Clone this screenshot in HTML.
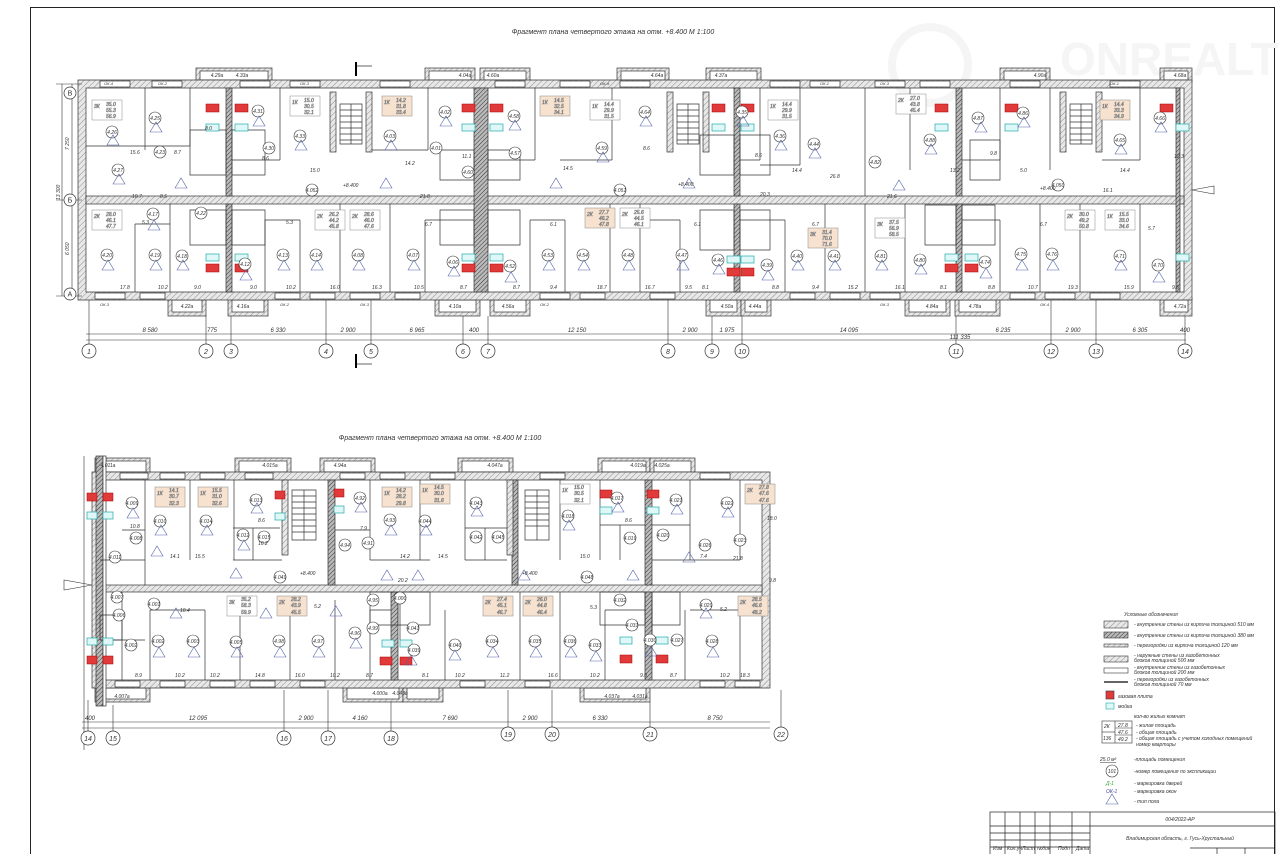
<!DOCTYPE html>
<html><head><meta charset="utf-8"><style>
html,body{margin:0;padding:0;background:#fff}
svg{display:block}
text{font-family:"Liberation Sans",sans-serif;font-style:italic;fill:#333}
.t{font-size:5px}
.d{font-size:6px}
.b{font-size:7px}
</style></head><body>
<svg width="1280" height="854" viewBox="0 0 1280 854" xmlns="http://www.w3.org/2000/svg">
<defs>
<pattern id="h" width="4" height="4" patternUnits="userSpaceOnUse" patternTransform="rotate(45)"><rect width="4" height="4" fill="#e8e8e8"/><line x1="0" y1="0" x2="0" y2="4" stroke="#777" stroke-width="0.8"/></pattern>
<pattern id="dh" width="3" height="3" patternUnits="userSpaceOnUse" patternTransform="rotate(45)"><rect width="3" height="3" fill="#bbb"/><line x1="0" y1="0" x2="0" y2="3" stroke="#333" stroke-width="1"/></pattern>
</defs>
<!-- frame -->
<rect x="30.5" y="7.5" width="1244" height="850" fill="none" stroke="#222" stroke-width="1"/>
<text x="1060" y="75" font-size="46" style="fill:#f5f5f5;font-weight:bold;font-style:normal">ONREALT</text>
<circle cx="930" cy="65" r="38" fill="none" stroke="#f5f5f5" stroke-width="8"/>

<text x="613" y="34" class="b" text-anchor="middle">Фрагмент плана четвертого этажа на отм. +8.400 М 1:100</text>
<text x="440" y="440" class="b" text-anchor="middle">Фрагмент плана четвертого этажа на отм. +8.400 М 1:100</text>

<!-- ===== PLAN 1 ===== -->
<g stroke="#333" stroke-width="0.7">
<g fill="url(#h)">
<rect x="196" y="68" width="76" height="14"/><rect x="425" y="68" width="50" height="14"/><rect x="480" y="68" width="50" height="14"/>
<rect x="617" y="68" width="52" height="14"/><rect x="706" y="68" width="55" height="14"/><rect x="1000" y="68" width="50" height="14"/><rect x="1160" y="68" width="32" height="14"/>
<rect x="168" y="298" width="38" height="18"/><rect x="228" y="298" width="40" height="18"/><rect x="435" y="298" width="45" height="18"/><rect x="490" y="298" width="40" height="18"/>
<rect x="706" y="298" width="35" height="18"/><rect x="741" y="298" width="30" height="18"/><rect x="905" y="298" width="45" height="18"/><rect x="955" y="298" width="45" height="18"/><rect x="1160" y="298" width="32" height="18"/>
</g>
<g fill="#fff">
<rect x="200" y="71" width="68" height="9"/><rect x="429" y="71" width="42" height="9"/><rect x="484" y="71" width="42" height="9"/><rect x="621" y="71" width="44" height="9"/><rect x="710" y="71" width="47" height="9"/><rect x="1004" y="71" width="42" height="9"/><rect x="1164" y="71" width="24" height="9"/>
<rect x="172" y="300" width="30" height="12"/><rect x="232" y="300" width="32" height="12"/><rect x="439" y="300" width="37" height="12"/><rect x="494" y="300" width="32" height="12"/><rect x="710" y="300" width="27" height="12"/><rect x="745" y="300" width="22" height="12"/><rect x="909" y="300" width="37" height="12"/><rect x="959" y="300" width="37" height="12"/><rect x="1164" y="300" width="24" height="12"/>
</g>
<path d="M78 80H1192V300H78Z M86 88V292H1184V88Z" fill="url(#h)" fill-rule="evenodd"/>
<rect x="86" y="196" width="1098" height="8" fill="url(#h)"/>
<g fill="url(#dh)">
<rect x="226" y="88" width="6" height="108"/><rect x="226" y="204" width="6" height="88"/>
<rect x="474" y="88" width="14" height="204"/>
<rect x="734" y="88" width="6" height="108"/><rect x="734" y="204" width="6" height="88"/>
<rect x="956" y="88" width="6" height="108"/><rect x="956" y="204" width="6" height="88"/>
<rect x="1176" y="88" width="4" height="204"/>
</g>
<g fill="none">
<rect x="330" y="92" width="6" height="60" fill="url(#h)"/><rect x="366" y="92" width="6" height="60" fill="url(#h)"/>
<rect x="667" y="92" width="6" height="60" fill="url(#h)"/><rect x="703" y="92" width="6" height="60" fill="url(#h)"/>
<rect x="1060" y="92" width="6" height="60" fill="url(#h)"/><rect x="1096" y="92" width="6" height="60" fill="url(#h)"/>
<path d="M340 104h22v40h-22z M340 110h22M340 116h22M340 122h22M340 128h22M340 134h22M340 140h22 M351 104v40"/>
<path d="M677 104h22v40h-22z M677 110h22M677 116h22M677 122h22M677 128h22M677 134h22M677 140h22 M688 104v40"/>
<path d="M1070 104h22v40h-22z M1070 110h22M1070 116h22M1070 122h22M1070 128h22M1070 134h22M1070 140h22 M1081 104v40"/>
</g>
<path fill="none" d="M145 88V150 M86 146H150 M190 88V146 M145 146H190 M280 88V160 M232 160H280 M428 88V150 M372 150H428 M535 88V160 M488 160H535 M612 88V160 M560 160H612 M760 88V160 M740 160H760 M800 88V165 M865 88V196 M910 88V170 M1000 88V160 M962 160H1000 M1050 88V170 M1140 88V160 M1102 160H1140 M800 165H760"/>
<path fill="none" d="M135 224V292 M135 224H170 M170 204V292 M265 220V292 M265 220H300 M300 220V292 M340 204V292 M390 204V292 M425 220V292 M425 220H474 M530 220V292 M530 220H565 M565 220V292 M610 204V292 M640 204V292 M680 220V292 M640 220H680 M785 220V292 M740 220H785 M825 204V292 M865 204V292 M905 204V292 M1000 220V292 M962 220H1000 M1040 204V292 M1080 204V292 M1140 204V292"/>
<path fill="none" d="M190 130H226V175H190Z M232 130H265V175H232Z M440 150H474V180H440Z M488 150H520V180H488Z M190 210H226V245H190Z M232 210H265V245H232Z M440 210H474V245H440Z M488 210H520V245H488Z M700 135H734V175H700Z M740 135H770V175H740Z M700 210H734V250H700Z M740 210H770V250H740Z M925 205H956V245H925Z M962 205H995V245H962Z M970 140H1000V180H970Z"/>
<g fill="#fff">
<rect x="100" y="81" width="30" height="6"/><rect x="152" y="81" width="30" height="6"/><rect x="240" y="81" width="30" height="6"/><rect x="290" y="81" width="30" height="6"/><rect x="380" y="81" width="30" height="6"/><rect x="495" y="81" width="30" height="6"/><rect x="560" y="81" width="30" height="6"/><rect x="620" y="81" width="30" height="6"/><rect x="770" y="81" width="30" height="6"/><rect x="810" y="81" width="30" height="6"/><rect x="875" y="81" width="30" height="6"/><rect x="920" y="81" width="30" height="6"/><rect x="1010" y="81" width="30" height="6"/><rect x="1110" y="81" width="30" height="6"/>
<rect x="95" y="293" width="30" height="6"/><rect x="140" y="293" width="25" height="6"/><rect x="275" y="293" width="25" height="6"/><rect x="310" y="293" width="25" height="6"/><rect x="350" y="293" width="30" height="6"/><rect x="395" y="293" width="25" height="6"/><rect x="540" y="293" width="30" height="6"/><rect x="580" y="293" width="25" height="6"/><rect x="650" y="293" width="25" height="6"/><rect x="790" y="293" width="25" height="6"/><rect x="830" y="293" width="30" height="6"/><rect x="870" y="293" width="30" height="6"/><rect x="1010" y="293" width="25" height="6"/><rect x="1045" y="293" width="30" height="6"/><rect x="1090" y="293" width="30" height="6"/>
</g>
</g>
<g stroke="#a00" stroke-width="0.5" fill="#e03a3a">
<rect x="206" y="104" width="13" height="8"/><rect x="235" y="104" width="13" height="8"/><rect x="462" y="104" width="13" height="8"/><rect x="490" y="104" width="13" height="8"/><rect x="712" y="104" width="13" height="8"/><rect x="741" y="104" width="13" height="8"/><rect x="935" y="104" width="13" height="8"/><rect x="1005" y="104" width="13" height="8"/><rect x="1160" y="104" width="13" height="8"/>
<rect x="206" y="264" width="13" height="8"/><rect x="235" y="264" width="13" height="8"/><rect x="462" y="264" width="13" height="8"/><rect x="490" y="264" width="13" height="8"/><rect x="727" y="268" width="13" height="8"/><rect x="741" y="268" width="13" height="8"/><rect x="945" y="264" width="13" height="8"/><rect x="965" y="264" width="13" height="8"/>
</g>
<g stroke="#2aa" stroke-width="0.7" fill="#dff7f7">
<rect x="206" y="124" width="13" height="7"/><rect x="235" y="124" width="13" height="7"/><rect x="462" y="124" width="13" height="7"/><rect x="490" y="124" width="13" height="7"/><rect x="712" y="124" width="13" height="7"/><rect x="741" y="124" width="13" height="7"/><rect x="935" y="124" width="13" height="7"/><rect x="1005" y="124" width="13" height="7"/><rect x="1176" y="124" width="13" height="7"/>
<rect x="206" y="254" width="13" height="7"/><rect x="235" y="254" width="13" height="7"/><rect x="462" y="254" width="13" height="7"/><rect x="490" y="254" width="13" height="7"/><rect x="727" y="256" width="13" height="7"/><rect x="741" y="256" width="13" height="7"/><rect x="945" y="254" width="13" height="7"/><rect x="965" y="254" width="13" height="7"/><rect x="1176" y="254" width="13" height="7"/>
</g>
<g stroke="#888" stroke-width="0.5" class="t">
<rect x="92" y="100" width="30" height="20" fill="#fff"/><text x="94" y="108">3К</text><text x="106" y="106">35.0</text><text x="106" y="112">55.3</text><text x="106" y="118">56.9</text>
<rect x="290" y="96" width="30" height="20" fill="#fff"/><text x="292" y="104">1К</text><text x="304" y="102">15.0</text><text x="304" y="108">30.5</text><text x="304" y="114">32.1</text>
<rect x="382" y="96" width="30" height="20" fill="#f7e2d0"/><text x="384" y="104">1К</text><text x="396" y="102">14.2</text><text x="396" y="108">31.8</text><text x="396" y="114">33.4</text>
<rect x="540" y="96" width="30" height="20" fill="#f7e2d0"/><text x="542" y="104">1К</text><text x="554" y="102">14.5</text><text x="554" y="108">32.5</text><text x="554" y="114">34.1</text>
<rect x="590" y="100" width="30" height="20" fill="#fff"/><text x="592" y="108">1К</text><text x="604" y="106">14.4</text><text x="604" y="112">29.9</text><text x="604" y="118">31.5</text>
<rect x="768" y="100" width="30" height="20" fill="#fff"/><text x="770" y="108">1К</text><text x="782" y="106">14.4</text><text x="782" y="112">29.9</text><text x="782" y="118">31.5</text>
<rect x="896" y="94" width="30" height="20" fill="#fff"/><text x="898" y="102">2К</text><text x="910" y="100">27.0</text><text x="910" y="106">43.8</text><text x="910" y="112">45.4</text>
<rect x="1100" y="100" width="30" height="20" fill="#f7e2d0"/><text x="1102" y="108">1К</text><text x="1114" y="106">14.4</text><text x="1114" y="112">33.3</text><text x="1114" y="118">34.9</text>
<rect x="92" y="210" width="30" height="20" fill="#fff"/><text x="94" y="218">2К</text><text x="106" y="216">28.0</text><text x="106" y="222">46.1</text><text x="106" y="228">47.7</text>
<rect x="315" y="210" width="30" height="20" fill="#fff"/><text x="317" y="218">2К</text><text x="329" y="216">26.2</text><text x="329" y="222">44.2</text><text x="329" y="228">45.8</text>
<rect x="350" y="210" width="30" height="20" fill="#fff"/><text x="352" y="218">2К</text><text x="364" y="216">28.6</text><text x="364" y="222">46.0</text><text x="364" y="228">47.6</text>
<rect x="585" y="208" width="30" height="20" fill="#f7e2d0"/><text x="587" y="216">2К</text><text x="599" y="214">27.7</text><text x="599" y="220">46.2</text><text x="599" y="226">47.8</text>
<rect x="620" y="208" width="30" height="20" fill="#fff"/><text x="622" y="216">2К</text><text x="634" y="214">25.6</text><text x="634" y="220">44.5</text><text x="634" y="226">46.1</text>
<rect x="808" y="228" width="30" height="20" fill="#f7e2d0"/><text x="810" y="236">3К</text><text x="822" y="234">31.4</text><text x="822" y="240">70.0</text><text x="822" y="246">71.6</text>
<rect x="875" y="218" width="30" height="20" fill="#fff"/><text x="877" y="226">3К</text><text x="889" y="224">37.5</text><text x="889" y="230">56.9</text><text x="889" y="236">58.5</text>
<rect x="1065" y="210" width="30" height="20" fill="#fff"/><text x="1067" y="218">2К</text><text x="1079" y="216">30.0</text><text x="1079" y="222">49.2</text><text x="1079" y="228">50.8</text>
<rect x="1105" y="210" width="30" height="20" fill="#fff"/><text x="1107" y="218">1К</text><text x="1119" y="216">15.5</text><text x="1119" y="222">33.0</text><text x="1119" y="228">34.6</text>
</g>
<g fill="#fff" stroke="#333" stroke-width="0.6">
<circle cx="112" cy="132" r="6"/><circle cx="155" cy="118" r="6"/><circle cx="118" cy="170" r="6"/><circle cx="160" cy="152" r="6"/><circle cx="258" cy="111" r="6"/><circle cx="300" cy="136" r="6"/><circle cx="269" cy="148" r="6"/><circle cx="390" cy="136" r="6"/><circle cx="445" cy="112" r="6"/><circle cx="436" cy="148" r="6"/><circle cx="514" cy="116" r="6"/><circle cx="515" cy="153" r="6"/><circle cx="602" cy="148" r="6"/><circle cx="645" cy="112" r="6"/><circle cx="742" cy="112" r="6"/><circle cx="780" cy="136" r="6"/><circle cx="814" cy="144" r="6"/><circle cx="875" cy="162" r="6"/><circle cx="930" cy="140" r="6"/><circle cx="978" cy="118" r="6"/><circle cx="1023" cy="113" r="6"/><circle cx="1120" cy="140" r="6"/><circle cx="1160" cy="118" r="6"/><circle cx="312" cy="190" r="6"/><circle cx="468" cy="172" r="6"/><circle cx="620" cy="190" r="6"/><circle cx="1058" cy="185" r="6"/>
<circle cx="107" cy="255" r="6"/><circle cx="153" cy="214" r="6"/><circle cx="155" cy="255" r="6"/><circle cx="182" cy="256" r="6"/><circle cx="201" cy="213" r="6"/><circle cx="245" cy="264" r="6"/><circle cx="283" cy="255" r="6"/><circle cx="316" cy="255" r="6"/><circle cx="358" cy="255" r="6"/><circle cx="413" cy="255" r="6"/><circle cx="453" cy="262" r="6"/><circle cx="510" cy="266" r="6"/><circle cx="548" cy="255" r="6"/><circle cx="583" cy="255" r="6"/><circle cx="628" cy="255" r="6"/><circle cx="682" cy="255" r="6"/><circle cx="718" cy="260" r="6"/><circle cx="767" cy="265" r="6"/><circle cx="797" cy="256" r="6"/><circle cx="834" cy="256" r="6"/><circle cx="881" cy="256" r="6"/><circle cx="920" cy="260" r="6"/><circle cx="985" cy="262" r="6"/><circle cx="1021" cy="254" r="6"/><circle cx="1052" cy="254" r="6"/><circle cx="1120" cy="256" r="6"/><circle cx="1158" cy="265" r="6"/>
</g>
<g class="t" text-anchor="middle">
<text x="112" y="134">4.26</text><text x="155" y="120">4.25</text><text x="118" y="172">4.27</text><text x="160" y="154">4.23</text><text x="258" y="113">4.31</text><text x="300" y="138">4.33</text><text x="269" y="150">4.30</text><text x="390" y="138">4.03</text><text x="445" y="114">4.02</text><text x="436" y="150">4.01</text><text x="514" y="118">4.58</text><text x="515" y="155">4.57</text><text x="602" y="150">4.59</text><text x="645" y="114">4.64</text><text x="742" y="114">4.35</text><text x="780" y="138">4.36</text><text x="814" y="146">4.44</text><text x="875" y="164">4.82</text><text x="930" y="142">4.88</text><text x="978" y="120">4.87</text><text x="1023" y="115">4.86</text><text x="1120" y="142">4.65</text><text x="1160" y="120">4.66</text><text x="312" y="192">4.052</text><text x="468" y="174">4.60</text><text x="620" y="192">4.051</text><text x="1058" y="187">4.050</text>
<text x="107" y="257">4.20</text><text x="153" y="216">4.17</text><text x="155" y="257">4.19</text><text x="182" y="258">4.18</text><text x="201" y="215">4.22</text><text x="245" y="266">4.12</text><text x="283" y="257">4.13</text><text x="316" y="257">4.14</text><text x="358" y="257">4.08</text><text x="413" y="257">4.07</text><text x="453" y="264">4.06</text><text x="510" y="268">4.52</text><text x="548" y="257">4.53</text><text x="583" y="257">4.54</text><text x="628" y="257">4.48</text><text x="682" y="257">4.47</text><text x="718" y="262">4.46</text><text x="767" y="267">4.39</text><text x="797" y="258">4.40</text><text x="834" y="258">4.41</text><text x="881" y="258">4.81</text><text x="920" y="262">4.80</text><text x="985" y="264">4.74</text><text x="1021" y="256">4.75</text><text x="1052" y="256">4.76</text><text x="1120" y="258">4.71</text><text x="1158" y="267">4.70</text>
</g>
<g fill="none" stroke="#5566aa" stroke-width="0.6">
<path d="M107 145l6 -10l6 10z M150 132l6 -10l6 10z M113 184l6 -10l6 10z M253 126l6 -10l6 10z M295 150l6 -10l6 10z M385 150l6 -10l6 10z M440 126l6 -10l6 10z M509 130l6 -10l6 10z M597 162l6 -10l6 10z M640 126l6 -10l6 10z M737 126l6 -10l6 10z M775 150l6 -10l6 10z M809 158l6 -10l6 10z M925 154l6 -10l6 10z M1018 127l6 -10l6 10z M1155 132l6 -10l6 10z M1115 154l6 -10l6 10z M975 132l6 -10l6 10z M683 188l6 -10l6 10z M550 188l6 -10l6 10z M380 188l6 -10l6 10z M175 188l6 -10l6 10z M893 190l6 -10l6 10z"/>
<path d="M102 270l6 -10l6 10z M150 270l6 -10l6 10z M177 270l6 -10l6 10z M240 280l6 -10l6 10z M278 270l6 -10l6 10z M311 270l6 -10l6 10z M353 270l6 -10l6 10z M408 270l6 -10l6 10z M448 276l6 -10l6 10z M505 282l6 -10l6 10z M543 270l6 -10l6 10z M578 270l6 -10l6 10z M623 270l6 -10l6 10z M677 270l6 -10l6 10z M713 274l6 -10l6 10z M762 280l6 -10l6 10z M792 270l6 -10l6 10z M829 270l6 -10l6 10z M876 270l6 -10l6 10z M915 274l6 -10l6 10z M980 278l6 -10l6 10z M1016 270l6 -10l6 10z M1047 270l6 -10l6 10z M1115 270l6 -10l6 10z M1153 282l6 -10l6 10z M148 230l6 -10l6 10z"/>
</g>
<g class="t">
<text x="130" y="154">15.6</text><text x="174" y="154">8.7</text><text x="132" y="198">10.7</text><text x="160" y="198">8.5</text><text x="205" y="130">8.0</text><text x="262" y="160">8.6</text><text x="310" y="172">15.0</text><text x="405" y="165">14.2</text><text x="462" y="158">11.1</text><text x="420" y="198">21.8</text><text x="563" y="170">14.5</text><text x="643" y="150">8.6</text><text x="755" y="157">8.6</text><text x="792" y="172">14.4</text><text x="830" y="178">26.8</text><text x="950" y="172">13.2</text><text x="1020" y="172">5.0</text><text x="1103" y="192">16.1</text><text x="1120" y="172">14.4</text><text x="1174" y="158">12.3</text><text x="887" y="198">21.6</text><text x="760" y="196">20.3</text><text x="990" y="155">9.8</text><text x="678" y="186">+8.400</text><text x="343" y="187">+8.400</text><text x="1040" y="190">+8.400</text>
<text x="120" y="289">17.8</text><text x="158" y="289">10.2</text><text x="194" y="289">9.0</text><text x="250" y="289">9.0</text><text x="286" y="289">10.2</text><text x="330" y="289">16.0</text><text x="372" y="289">16.3</text><text x="414" y="289">10.5</text><text x="460" y="289">8.7</text><text x="513" y="289">8.7</text><text x="550" y="289">9.4</text><text x="597" y="289">18.7</text><text x="645" y="289">16.7</text><text x="685" y="289">9.5</text><text x="702" y="289">8.1</text><text x="772" y="289">8.8</text><text x="812" y="289">9.4</text><text x="848" y="289">15.2</text><text x="895" y="289">16.1</text><text x="940" y="289">8.1</text><text x="988" y="289">8.8</text><text x="1028" y="289">10.7</text><text x="1068" y="289">19.3</text><text x="1124" y="289">15.9</text><text x="1172" y="289">9.5</text>
<text x="142" y="224">5.3</text><text x="286" y="224">5.3</text><text x="550" y="226">6.1</text><text x="694" y="226">6.1</text><text x="812" y="226">6.7</text><text x="1040" y="226">6.7</text><text x="1148" y="230">5.7</text><text x="425" y="226">6.7</text>
<text x="104" y="85" font-size="4">ОК-4</text><text x="158" y="85" font-size="4">ОК-2</text><text x="300" y="85" font-size="4">ОК-3</text><text x="600" y="85" font-size="4">ОК-4</text><text x="820" y="85" font-size="4">ОК-1</text><text x="880" y="85" font-size="4">ОК-3</text><text x="1110" y="85" font-size="4">ОК-1</text>
<text x="100" y="306" font-size="4">ОК-3</text><text x="280" y="306" font-size="4">ОК-2</text><text x="360" y="306" font-size="4">ОК-3</text><text x="540" y="306" font-size="4">ОК-2</text><text x="880" y="306" font-size="4">ОК-3</text><text x="1040" y="306" font-size="4">ОК-4</text>
</g>
<g class="t" text-anchor="middle"><text x="217" y="77">4.29a</text><text x="242" y="77">4.33a</text><text x="465" y="77">4.04a</text><text x="493" y="77">4.60a</text><text x="657" y="77">4.64a</text><text x="721" y="77">4.37a</text><text x="1040" y="77">4.90a</text><text x="1180" y="77">4.68a</text><text x="187" y="308">4.22a</text><text x="243" y="308">4.16a</text><text x="455" y="308">4.10a</text><text x="508" y="308">4.56a</text><text x="727" y="308">4.50a</text><text x="755" y="308">4.44a</text><text x="932" y="308">4.84a</text><text x="975" y="308">4.78a</text><text x="1180" y="308">4.72a</text></g>
<g stroke="#333" stroke-width="0.6" fill="none"><path d="M62 84V296 M56 84H82 M56 200H82 M56 296H82 M72 84V296"/></g>
<g class="t"><text transform="translate(69,150) rotate(-90)">7 250</text><text transform="translate(60,200) rotate(-90)">13 300</text><text transform="translate(69,255) rotate(-90)">6 050</text></g>
<circle cx="70" cy="93" r="6" fill="#fff" stroke="#333" stroke-width="0.7"/><text x="70" y="95.5" class="b" text-anchor="middle" style="font-style:normal">В</text>
<circle cx="70" cy="200" r="6" fill="#fff" stroke="#333" stroke-width="0.7"/><text x="70" y="202.5" class="b" text-anchor="middle" style="font-style:normal">Б</text>
<circle cx="70" cy="294" r="6" fill="#fff" stroke="#333" stroke-width="0.7"/><text x="70" y="296.5" class="b" text-anchor="middle" style="font-style:normal">А</text>
<path d="M1192 190L1214 186V194Z" fill="none" stroke="#333" stroke-width="0.6"/>
<g stroke="#000" stroke-width="2"><line x1="356" y1="62" x2="356" y2="76"/><line x1="356" y1="354" x2="356" y2="368"/></g>
<g stroke="#000" stroke-width="0.6"><line x1="356" y1="66" x2="372" y2="66"/><line x1="356" y1="364" x2="372" y2="364"/></g>
<g stroke="#333" stroke-width="0.6" fill="none">
<path d="M86 334H1186 M86 340H1186"/>
<path d="M89 300V344 M206 316V344 M231 316V344 M326 300V344 M371 300V344 M463 316V344 M488 316V344 M668 300V344 M712 316V344 M742 316V344 M956 316V344 M1051 300V344 M1096 300V344 M1185 316V344"/>
</g>
<g fill="#fff" stroke="#333" stroke-width="0.7">
<circle cx="89" cy="351" r="7"/><circle cx="206" cy="351" r="7"/><circle cx="231" cy="351" r="7"/><circle cx="326" cy="351" r="7"/><circle cx="371" cy="351" r="7"/><circle cx="463" cy="351" r="7"/><circle cx="488" cy="351" r="7"/><circle cx="668" cy="351" r="7"/><circle cx="712" cy="351" r="7"/><circle cx="742" cy="351" r="7"/><circle cx="956" cy="351" r="7"/><circle cx="1051" cy="351" r="7"/><circle cx="1096" cy="351" r="7"/><circle cx="1185" cy="351" r="7"/>
</g>
<g class="b" text-anchor="middle">
<text x="89" y="354">1</text><text x="206" y="354">2</text><text x="231" y="354">3</text><text x="326" y="354">4</text><text x="371" y="354">5</text><text x="463" y="354">6</text><text x="488" y="354">7</text><text x="668" y="354">8</text><text x="712" y="354">9</text><text x="742" y="354">10</text><text x="956" y="354">11</text><text x="1051" y="354">12</text><text x="1096" y="354">13</text><text x="1185" y="354">14</text>
</g>
<g class="d" text-anchor="middle">
<text x="150" y="332">8 580</text><text x="212" y="332">775</text><text x="278" y="332">6 330</text><text x="348" y="332">2 900</text><text x="417" y="332">6 965</text><text x="474" y="332">400</text><text x="577" y="332">12 150</text><text x="690" y="332">2 900</text><text x="727" y="332">1 975</text><text x="849" y="332">14 095</text><text x="1003" y="332">6 235</text><text x="1073" y="332">2 900</text><text x="1140" y="332">6 305</text><text x="1185" y="332">400</text><text x="960" y="339">111 335</text>
</g>

<!-- ===== PLAN 2 ===== -->
<g stroke="#333" stroke-width="0.7">
<g fill="url(#h)">
<rect x="95" y="458" width="55" height="16"/><rect x="235" y="458" width="56" height="16"/><rect x="320" y="458" width="55" height="16"/><rect x="458" y="458" width="55" height="16"/><rect x="598" y="458" width="52" height="16"/><rect x="650" y="458" width="45" height="16"/>
<rect x="95" y="686" width="55" height="16"/><rect x="343" y="686" width="60" height="16"/><rect x="403" y="686" width="40" height="16"/><rect x="580" y="686" width="70" height="16"/>
</g>
<g fill="#fff">
<rect x="99" y="461" width="47" height="11"/><rect x="239" y="461" width="48" height="11"/><rect x="324" y="461" width="47" height="11"/><rect x="462" y="461" width="47" height="11"/><rect x="602" y="461" width="44" height="11"/><rect x="654" y="461" width="37" height="11"/>
<rect x="99" y="688" width="47" height="11"/><rect x="347" y="688" width="52" height="11"/><rect x="407" y="688" width="32" height="11"/><rect x="584" y="688" width="62" height="11"/>
</g>
<path d="M92 472H770V688H92Z M100 480V680H762V480Z" fill="url(#h)" fill-rule="evenodd"/>
<rect x="100" y="585" width="662" height="7" fill="url(#h)"/>
<g fill="url(#dh)">
<rect x="96" y="456" width="7" height="250"/><rect x="103" y="456" width="3" height="250" fill="#fff"/>
<rect x="328" y="480" width="7" height="105" /><rect x="391" y="592" width="7" height="88"/><rect x="645" y="480" width="7" height="105"/><rect x="645" y="592" width="7" height="88"/><rect x="512" y="480" width="6" height="105"/>
</g>
<rect x="282" y="480" width="6" height="75" fill="url(#h)"/><rect x="507" y="480" width="6" height="75" fill="url(#h)"/>
<path fill="none" d="M292 490h24v50h-24z M292 496h24M292 502h24M292 508h24M292 514h24M292 520h24M292 526h24M292 532h24 M304 490v50 M525 490h24v50h-24z M525 496h24M525 502h24M525 508h24M525 514h24M525 520h24M525 526h24 M537 490v50"/>
<path fill="none" d="M145 480V560 M122 530H145 M145 560H100 M145 560V585 M190 480V560 M234 480V560 M233 528H280 M253 528V560 M233 560H282 M370 480V560 M335 530H370 M370 560H430 M420 480V560 M465 480V560 M465 560H507 M465 528H507 M485 528V560 M560 480V560 M600 480V560 M600 525H645 M620 525V560 M652 525H690 M690 480V560 M652 560H740 M740 480V560
M150 610V680 M150 610H205 M205 610V680 M240 610V680 M290 600V680 M335 600V680 M370 610V680 M370 610H391 M400 600V640 M445 610V680 M520 592V680 M560 592V680 M605 610V680 M605 610H645 M652 600V640 M685 610V680 M690 610H740 M740 610V680 M122 592V680 M100 640H145"/>
<path fill="none" d="M370 592H398V625H370Z M398 592H430V625H398Z M600 592H645V625H600Z M652 592H680V625H652Z M100 615H122V640H100Z"/>
<g fill="#fff">
<rect x="120" y="473" width="28" height="6"/><rect x="160" y="473" width="25" height="6"/><rect x="200" y="473" width="25" height="6"/><rect x="245" y="473" width="28" height="6"/><rect x="340" y="473" width="25" height="6"/><rect x="380" y="473" width="25" height="6"/><rect x="430" y="473" width="25" height="6"/><rect x="540" y="473" width="25" height="6"/><rect x="700" y="473" width="30" height="6"/>
<rect x="115" y="681" width="25" height="6"/><rect x="160" y="681" width="25" height="6"/><rect x="210" y="681" width="25" height="6"/><rect x="250" y="681" width="25" height="6"/><rect x="300" y="681" width="25" height="6"/><rect x="460" y="681" width="25" height="6"/><rect x="525" y="681" width="25" height="6"/><rect x="700" y="681" width="25" height="6"/><rect x="735" y="681" width="25" height="6"/>
</g>
</g>
<g stroke="#a00" stroke-width="0.5" fill="#e03a3a">
<rect x="87" y="493" width="10" height="8"/><rect x="103" y="493" width="10" height="8"/><rect x="275" y="491" width="10" height="8"/><rect x="334" y="489" width="10" height="8"/><rect x="600" y="490" width="12" height="8"/><rect x="647" y="490" width="12" height="8"/>
<rect x="87" y="656" width="10" height="8"/><rect x="103" y="656" width="10" height="8"/><rect x="380" y="657" width="12" height="8"/><rect x="400" y="657" width="12" height="8"/><rect x="620" y="655" width="12" height="8"/><rect x="656" y="655" width="12" height="8"/>
</g>
<g stroke="#2aa" stroke-width="0.7" fill="#dff7f7">
<rect x="87" y="512" width="10" height="7"/><rect x="103" y="512" width="10" height="7"/><rect x="275" y="513" width="10" height="7"/><rect x="334" y="506" width="10" height="7"/><rect x="600" y="507" width="12" height="7"/><rect x="647" y="507" width="12" height="7"/>
<rect x="87" y="638" width="10" height="7"/><rect x="103" y="638" width="10" height="7"/><rect x="382" y="640" width="12" height="7"/><rect x="400" y="640" width="12" height="7"/><rect x="620" y="637" width="12" height="7"/><rect x="656" y="637" width="12" height="7"/>
</g>
<g stroke="#888" stroke-width="0.5" class="t">
<rect x="155" y="487" width="30" height="20" fill="#f7e2d0"/><text x="157" y="495">1К</text><text x="169" y="492">14.1</text><text x="169" y="498">30.7</text><text x="169" y="505">32.3</text>
<rect x="198" y="487" width="30" height="20" fill="#f7e2d0"/><text x="200" y="495">1К</text><text x="212" y="492">15.5</text><text x="212" y="498">31.0</text><text x="212" y="505">32.6</text>
<rect x="382" y="487" width="30" height="20" fill="#f7e2d0"/><text x="384" y="495">1К</text><text x="396" y="492">14.2</text><text x="396" y="498">28.2</text><text x="396" y="505">29.8</text>
<rect x="420" y="484" width="30" height="20" fill="#f7e2d0"/><text x="422" y="492">1К</text><text x="434" y="489">14.5</text><text x="434" y="495">30.0</text><text x="434" y="502">31.6</text>
<rect x="560" y="484" width="30" height="20" fill="#fff"/><text x="562" y="492">1К</text><text x="574" y="489">15.0</text><text x="574" y="495">30.5</text><text x="574" y="502">32.1</text>
<rect x="745" y="484" width="30" height="20" fill="#f7e2d0"/><text x="747" y="492">2К</text><text x="759" y="489">27.8</text><text x="759" y="495">47.6</text><text x="759" y="502">47.6</text>
<rect x="227" y="596" width="30" height="20" fill="#fff"/><text x="229" y="604">3К</text><text x="241" y="601">35.2</text><text x="241" y="607">58.3</text><text x="241" y="614">59.9</text>
<rect x="277" y="596" width="30" height="20" fill="#f7e2d0"/><text x="279" y="604">2К</text><text x="291" y="601">28.2</text><text x="291" y="607">43.9</text><text x="291" y="614">45.5</text>
<rect x="483" y="596" width="30" height="20" fill="#f7e2d0"/><text x="485" y="604">2К</text><text x="497" y="601">27.4</text><text x="497" y="607">45.1</text><text x="497" y="614">46.7</text>
<rect x="523" y="596" width="30" height="20" fill="#f7e2d0"/><text x="525" y="604">2К</text><text x="537" y="601">26.0</text><text x="537" y="607">44.8</text><text x="537" y="614">46.4</text>
<rect x="738" y="596" width="30" height="20" fill="#f7e2d0"/><text x="740" y="604">2К</text><text x="752" y="601">28.5</text><text x="752" y="607">46.6</text><text x="752" y="614">48.2</text>
</g>
<g fill="#fff" stroke="#333" stroke-width="0.6">
<circle cx="132" cy="503" r="6"/><circle cx="136" cy="538" r="6"/><circle cx="115" cy="557" r="6"/><circle cx="160" cy="521" r="6"/><circle cx="206" cy="521" r="6"/><circle cx="256" cy="500" r="6"/><circle cx="243" cy="535" r="6"/><circle cx="264" cy="537" r="6"/><circle cx="360" cy="498" r="6"/><circle cx="345" cy="545" r="6"/><circle cx="368" cy="543" r="6"/><circle cx="390" cy="520" r="6"/><circle cx="425" cy="521" r="6"/><circle cx="476" cy="503" r="6"/><circle cx="476" cy="537" r="6"/><circle cx="498" cy="537" r="6"/><circle cx="568" cy="516" r="6"/><circle cx="617" cy="498" r="6"/><circle cx="630" cy="538" r="6"/><circle cx="676" cy="500" r="6"/><circle cx="663" cy="535" r="6"/><circle cx="705" cy="545" r="6"/><circle cx="727" cy="503" r="6"/><circle cx="740" cy="540" r="6"/><circle cx="280" cy="577" r="6"/><circle cx="587" cy="577" r="6"/>
<circle cx="117" cy="597" r="6"/><circle cx="119" cy="615" r="6"/><circle cx="154" cy="604" r="6"/><circle cx="131" cy="645" r="6"/><circle cx="158" cy="641" r="6"/><circle cx="193" cy="641" r="6"/><circle cx="236" cy="642" r="6"/><circle cx="279" cy="641" r="6"/><circle cx="318" cy="641" r="6"/><circle cx="355" cy="633" r="6"/><circle cx="373" cy="600" r="6"/><circle cx="373" cy="628" r="6"/><circle cx="400" cy="598" r="6"/><circle cx="413" cy="628" r="6"/><circle cx="414" cy="650" r="6"/><circle cx="455" cy="645" r="6"/><circle cx="492" cy="641" r="6"/><circle cx="535" cy="641" r="6"/><circle cx="570" cy="641" r="6"/><circle cx="595" cy="645" r="6"/><circle cx="620" cy="600" r="6"/><circle cx="632" cy="625" r="6"/><circle cx="650" cy="640" r="6"/><circle cx="677" cy="640" r="6"/><circle cx="712" cy="641" r="6"/><circle cx="706" cy="605" r="6"/>
</g>
<g class="t" text-anchor="middle" font-size="4">
<text x="132" y="505">4.009</text><text x="136" y="540">4.008</text><text x="115" y="559">4.011</text><text x="160" y="523">4.010</text><text x="206" y="523">4.014</text><text x="256" y="502">4.013</text><text x="243" y="537">4.012</text><text x="264" y="539">4.015</text><text x="360" y="500">4.92</text><text x="345" y="547">4.94</text><text x="368" y="545">4.91</text><text x="390" y="522">4.93</text><text x="425" y="523">4.044</text><text x="476" y="505">4.043</text><text x="476" y="539">4.042</text><text x="498" y="539">4.045</text><text x="568" y="518">4.018</text><text x="617" y="500">4.017</text><text x="630" y="540">4.019</text><text x="676" y="502">4.021</text><text x="663" y="537">4.020</text><text x="705" y="547">4.026</text><text x="727" y="505">4.022</text><text x="740" y="542">4.023</text><text x="280" y="579">4.049</text><text x="587" y="579">4.048</text>
<text x="117" y="599">4.007</text><text x="119" y="617">4.006</text><text x="154" y="606">4.001</text><text x="131" y="647">4.002</text><text x="158" y="643">4.002</text><text x="193" y="643">4.003</text><text x="236" y="644">4.005</text><text x="279" y="643">4.98</text><text x="318" y="643">4.97</text><text x="355" y="635">4.96</text><text x="373" y="602">4.95</text><text x="373" y="630">4.99</text><text x="400" y="600">4.000</text><text x="413" y="630">4.041</text><text x="414" y="652">4.039</text><text x="455" y="647">4.040</text><text x="492" y="643">4.034</text><text x="535" y="643">4.035</text><text x="570" y="643">4.036</text><text x="595" y="647">4.033</text><text x="620" y="602">4.032</text><text x="632" y="627">4.031</text><text x="650" y="642">4.030</text><text x="677" y="642">4.027</text><text x="712" y="643">4.028</text><text x="706" y="607">4.029</text>
</g>
<g fill="none" stroke="#5566aa" stroke-width="0.6">
<path d="M127 518l6 -10l6 10z M155 535l6 -10l6 10z M201 535l6 -10l6 10z M251 513l6 -10l6 10z M355 512l6 -10l6 10z M385 535l6 -10l6 10z M420 535l6 -10l6 10z M471 516l6 -10l6 10z M563 530l6 -10l6 10z M612 512l6 -10l6 10z M671 514l6 -10l6 10z M722 517l6 -10l6 10z M238 550l6 -10l6 10z M151 556l6 -10l6 10z M230 578l6 -10l6 10z M381 580l6 -10l6 10z M412 580l6 -10l6 10z M518 580l6 -10l6 10z M627 580l6 -10l6 10z M683 562l6 -10l6 10z"/>
<path d="M153 657l6 -10l6 10z M188 657l6 -10l6 10z M231 657l6 -10l6 10z M274 657l6 -10l6 10z M313 657l6 -10l6 10z M350 648l6 -10l6 10z M487 657l6 -10l6 10z M530 657l6 -10l6 10z M565 657l6 -10l6 10z M590 661l6 -10l6 10z M645 656l6 -10l6 10z M707 657l6 -10l6 10z M449 660l6 -10l6 10z M405 665l6 -10l6 10z M170 618l6 -10l6 10z M260 618l6 -10l6 10z M330 616l6 -10l6 10z M700 618l6 -10l6 10z"/>
</g>
<g class="t">
<text x="130" y="528">10.8</text><text x="170" y="558">14.1</text><text x="195" y="558">15.5</text><text x="258" y="522">8.6</text><text x="258" y="545">10.2</text><text x="360" y="530">7.9</text><text x="400" y="558">14.2</text><text x="438" y="558">14.5</text><text x="580" y="558">15.0</text><text x="625" y="522">8.6</text><text x="700" y="558">7.4</text><text x="733" y="560">21.8</text><text x="767" y="520">18.0</text><text x="769" y="582">9.8</text><text x="398" y="582">20.2</text><text x="300" y="575">+8.400</text><text x="522" y="575">+8.400</text>
<text x="180" y="612">10.4</text><text x="314" y="608">5.2</text><text x="590" y="609">5.3</text><text x="720" y="611">5.2</text>
<text x="135" y="677">8.9</text><text x="175" y="677">10.2</text><text x="210" y="677">10.2</text><text x="255" y="677">14.8</text><text x="295" y="677">16.0</text><text x="330" y="677">10.2</text><text x="366" y="677">8.7</text><text x="422" y="677">8.1</text><text x="455" y="677">10.2</text><text x="500" y="677">11.2</text><text x="548" y="677">16.6</text><text x="590" y="677">10.2</text><text x="640" y="677">9.0</text><text x="670" y="677">8.7</text><text x="720" y="677">10.2</text><text x="740" y="677">18.3</text>
</g>
<g class="t" text-anchor="middle" font-size="4"><text x="108" y="467">4.011a</text><text x="270" y="467">4.015a</text><text x="340" y="467">4.94a</text><text x="495" y="467">4.047a</text><text x="638" y="467">4.019a</text><text x="662" y="467">4.025a</text><text x="122" y="698">4.007a</text><text x="380" y="695">4.000a</text><text x="400" y="695">4.043a</text><text x="612" y="698">4.037a</text><text x="640" y="698">4.031a</text></g>
<path d="M92 585L64 580V590Z" fill="none" stroke="#333" stroke-width="0.6"/>
<g stroke="#333" stroke-width="0.6" fill="none">
<path d="M82 722H770 M82 728H770 M88 700V740 M113 705V740 M284 690V740 M328 690V740 M391 702V740 M508 690V740 M552 690V740 M650 702V740 M781 690V740 M84 456V750"/>
</g>
<g fill="#fff" stroke="#333" stroke-width="0.7">
<circle cx="88" cy="738" r="7"/><circle cx="113" cy="738" r="7"/><circle cx="284" cy="738" r="7"/><circle cx="328" cy="738" r="7"/><circle cx="391" cy="738" r="7"/><circle cx="508" cy="734" r="7"/><circle cx="552" cy="734" r="7"/><circle cx="650" cy="734" r="7"/><circle cx="781" cy="734" r="7"/>
</g>
<g class="b" text-anchor="middle">
<text x="88" y="741">14</text><text x="113" y="741">15</text><text x="284" y="741">16</text><text x="328" y="741">17</text><text x="391" y="741">18</text><text x="508" y="737">19</text><text x="552" y="737">20</text><text x="650" y="737">21</text><text x="781" y="737">22</text>
</g>
<g class="d" text-anchor="middle">
<text x="90" y="720">400</text><text x="198" y="720">12 095</text><text x="306" y="720">2 900</text><text x="360" y="720">4 160</text><text x="450" y="720">7 690</text><text x="530" y="720">2 900</text><text x="600" y="720">6 330</text><text x="715" y="720">8 750</text>
</g>

<!-- ===== LEGEND ===== -->
<g class="t">
<text x="1124" y="616">Условные обозначения</text>
<g stroke="#333" stroke-width="0.6">
<rect x="1104" y="621" width="24" height="7" fill="url(#h)"/><rect x="1104" y="632" width="24" height="6" fill="url(#dh)"/><rect x="1104" y="644" width="24" height="3" fill="url(#h)"/><rect x="1104" y="656" width="24" height="6" fill="url(#h)"/><rect x="1104" y="668" width="24" height="5" fill="#fff"/><line x1="1104" y1="682" x2="1128" y2="682" stroke-width="1.5"/>
<rect x="1106" y="691" width="8" height="8" fill="#e03a3a"/><rect x="1106" y="703" width="8" height="6" fill="#dff7f7" stroke="#2aa"/>
<rect x="1102" y="721" width="30" height="22" fill="#fff"/><line x1="1115" y1="721" x2="1115" y2="743"/><line x1="1115" y1="728" x2="1132" y2="728"/><line x1="1115" y1="735" x2="1132" y2="735"/><line x1="1102" y1="732" x2="1115" y2="732"/>
<circle cx="1112" cy="771" r="6" fill="#fff"/><path d="M1106 804l6 -10l6 10z" fill="none" stroke="#5566aa"/>
</g>
<text x="1134" y="626">- внутренние стены из кирпича толщиной 510 мм</text>
<text x="1134" y="637">- внутренние стены из кирпича толщиной 380 мм</text>
<text x="1134" y="647">- перегородки из кирпича толщиной 120 мм</text>
<text x="1134" y="657">- наружные стены из газобетонных</text><text x="1134" y="662">блоков толщиной 500 мм</text>
<text x="1134" y="669">- внутренние стены из газобетонных</text><text x="1134" y="674">блоков толщиной 200 мм</text>
<text x="1134" y="681">- перегородки из газобетонных</text><text x="1134" y="686">блоков толщиной 70 мм</text>
<text x="1118" y="698">газовая плита</text><text x="1118" y="708">мойка</text>
<text x="1134" y="718">кол-во жилых комнат</text>
<text x="1104" y="728">2К</text><text x="1118" y="727">27.8</text><text x="1118" y="734">47.6</text><text x="1118" y="741">49.2</text><text x="1103" y="740">136</text>
<text x="1136" y="727">- жилая площадь</text><text x="1136" y="734">- общая площадь</text><text x="1136" y="740">- общая площадь с учетом холодных помещений</text><text x="1136" y="746">номер квартиры</text>
<text x="1100" y="761" style="text-decoration:underline">25.0 м²</text><text x="1134" y="761">-площадь помещения</text>
<text x="1112" y="773" text-anchor="middle">101</text><text x="1134" y="773">-номер помещения по экспликации</text>
<text x="1106" y="785" style="fill:#3a3">Д-1</text><text x="1134" y="785">- маркировка дверей</text>
<text x="1106" y="793" style="fill:#449">ОК-1</text><text x="1134" y="793">- маркировка окон</text>
<text x="1134" y="803">- тип пола</text>
</g>
<!-- title block -->
<g stroke="#222" stroke-width="0.7" fill="none">
<rect x="990" y="812" width="285" height="45"/>
<line x1="1090" y1="826" x2="1275" y2="826"/><line x1="990" y1="826" x2="1090" y2="826"/>
<line x1="990" y1="833" x2="1090" y2="833"/><line x1="990" y1="840" x2="1090" y2="840"/><line x1="990" y1="847" x2="1090" y2="847"/>
<line x1="1005" y1="812" x2="1005" y2="854"/><line x1="1020" y1="812" x2="1020" y2="854"/><line x1="1035" y1="812" x2="1035" y2="854"/><line x1="1050" y1="812" x2="1050" y2="854"/><line x1="1072" y1="812" x2="1072" y2="854"/><line x1="1090" y1="812" x2="1090" y2="854"/>
<line x1="1190" y1="848" x2="1275" y2="848"/><line x1="1217" y1="848" x2="1217" y2="854"/><line x1="1245" y1="848" x2="1245" y2="854"/>
</g>
<text x="1180" y="821" class="t" text-anchor="middle">004/2022-АР</text>
<text x="1180" y="840" class="t" text-anchor="middle">Владимирская область, г. Гусь-Хрустальный</text>
<g class="t" font-size="4.5"><text x="993" y="850">Изм</text><text x="1007" y="850">Кол.уч</text><text x="1022" y="850">Лист</text><text x="1037" y="850">№док</text><text x="1058" y="850">Подп</text><text x="1076" y="850">Дата</text></g>
</svg>
</body></html>
